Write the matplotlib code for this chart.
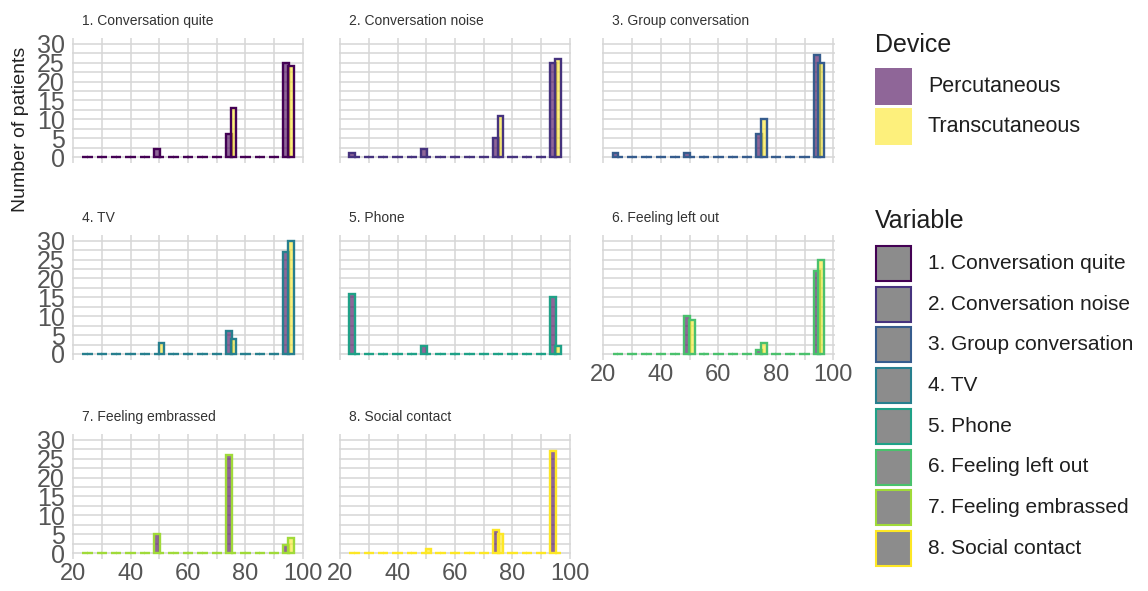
import matplotlib
matplotlib.use("Agg")
import matplotlib.pyplot as plt
from matplotlib.colors import to_rgba
from matplotlib.patches import Rectangle

plt.rcParams['font.family'] = ['Liberation Sans', 'DejaVu Sans']

# bin centres of the histogram
bins = [25, 30, 35, 40, 45, 50, 55, 60, 65, 70, 75, 80, 85, 90, 95]

variables = ["1. Conversation quite", "2. Conversation noise", "3. Group conversation",
             "4. TV", "5. Phone", "6. Feeling left out", "7. Feeling embrassed",
             "8. Social contact"]
devices = ["Percutaneous", "Transcutaneous"]

# counts per bin (25 ... 95), one row per variable
perc = [
    [0, 0, 0, 0, 0, 2, 0, 0, 0, 0, 6, 0, 0, 0, 25],
    [1, 0, 0, 0, 0, 2, 0, 0, 0, 0, 5, 0, 0, 0, 25],
    [1, 0, 0, 0, 0, 1, 0, 0, 0, 0, 6, 0, 0, 0, 27],
    [0, 0, 0, 0, 0, 0, 0, 0, 0, 0, 6, 0, 0, 0, 27],
    [16, 0, 0, 0, 0, 2, 0, 0, 0, 0, 0, 0, 0, 0, 15],
    [0, 0, 0, 0, 0, 10, 0, 0, 0, 0, 1, 0, 0, 0, 22],
    [0, 0, 0, 0, 0, 5, 0, 0, 0, 0, 26, 0, 0, 0, 2],
    [0, 0, 0, 0, 0, 0, 0, 0, 0, 0, 6, 0, 0, 0, 27],
]
trans = [
    [0, 0, 0, 0, 0, 0, 0, 0, 0, 0, 13, 0, 0, 0, 24],
    [0, 0, 0, 0, 0, 0, 0, 0, 0, 0, 11, 0, 0, 0, 26],
    [0, 0, 0, 0, 0, 0, 0, 0, 0, 0, 10, 0, 0, 0, 25],
    [0, 0, 0, 0, 0, 3, 0, 0, 0, 0, 4, 0, 0, 0, 30],
    [0, 0, 0, 0, 0, 0, 0, 0, 0, 0, 0, 0, 0, 0, 2],
    [0, 0, 0, 0, 0, 9, 0, 0, 0, 0, 3, 0, 0, 0, 25],
    [0, 0, 0, 0, 0, 0, 0, 0, 0, 0, 0, 0, 0, 0, 4],
    [0, 0, 0, 0, 0, 1, 0, 0, 0, 0, 5, 0, 0, 0, 0],
]

viridis8 = ['#440154', '#46337e', '#365c8d', '#277f8e', '#1fa187', '#4ac16d', '#a0da39', '#fde725']
fill_perc = to_rgba('#440154', 0.6)
fill_trans = to_rgba('#fde725', 0.6)

fig = plt.figure(figsize=(11.48, 5.91), dpi=100)

W, H = 1148, 591
col_left = [71.6, 338.6, 602.0]
row_bottom = [162.7, 359.6, 558.7]
pw, ph = 232.8, 124.5

grid_col = '#d6d6d6'
tick_col = '#555555'
narrow = ['Liberation Sans Narrow', 'Liberation Sans', 'DejaVu Sans']

for i, name in enumerate(variables):
    r, c = divmod(i, 3)
    ax = fig.add_axes([col_left[c] / W, 1 - row_bottom[r] / H, pw / W, ph / H])
    ax.set_xlim(19.5, 100.5)
    ax.set_ylim(-1.5, 31.5)
    ax.set_xticks([20, 40, 60, 80, 100])
    ax.set_xticks([30, 50, 70, 90], minor=True)
    ax.set_yticks([0, 5, 10, 15, 20, 25, 30])
    ax.set_yticks([2.5, 7.5, 12.5, 17.5, 22.5, 27.5], minor=True)
    ax.grid(True, which='both', color=grid_col, linewidth=1.1)
    ax.set_axisbelow(True)
    for s in ax.spines.values():
        s.set_visible(False)
    ax.tick_params(which='both', length=0)
    ax.tick_params(axis='y', labelcolor=tick_col, pad=5)
    ax.tick_params(axis='x', labelsize=17, labelcolor=tick_col, pad=3)
    if c != 0:
        ax.set_yticklabels([])
    else:
        for t in ax.get_yticklabels():
            t.set_family(narrow)
            t.set_fontsize(18)
    if i not in (5, 6, 7):
        ax.set_xticklabels([])

    ax.bar([b - 0.8 for b in bins], perc[i], width=2.0, facecolor=fill_perc,
           edgecolor=viridis8[i], linewidth=1.7)
    ax.bar([b + 0.8 for b in bins], trans[i], width=2.0, facecolor=fill_trans,
           edgecolor=viridis8[i], linewidth=1.7)

    ax.text(0.045, 1.135, name, transform=ax.transAxes, fontsize=10,
            color='#333333', ha='left', va='center')

fig.text(21 / W, 1 - 129 / H, 'Number of patients', rotation=90, fontsize=14,
         color='#222222', ha='center', va='center')

# legends drawn in a pixel-space overlay
lax = fig.add_axes([0, 0, 1, 1])
lax.set_xlim(0, W)
lax.set_ylim(H, 0)
lax.axis('off')
txt_col = '#1f1f1f'
key_x, key_w, key_h = 875, 37, 37

lax.text(key_x, 52, 'Device', fontsize=18, color=txt_col, va='baseline', ha='left')
for k, (lab, fc) in enumerate(zip(devices, [fill_perc, fill_trans])):
    y0 = 68 + k * 40
    lax.add_patch(Rectangle((key_x, y0), key_w, key_h, facecolor=fc, edgecolor='none'))
    lax.text(928, y0 + key_h / 2, lab, fontsize=15.5, color=txt_col, va='center', ha='left')

lax.text(key_x, 228, 'Variable', fontsize=18, color=txt_col, va='baseline', ha='left')
for k, (lab, ec) in enumerate(zip(variables, viridis8)):
    y0 = 245 + k * 40.7
    lax.add_patch(Rectangle((key_x + 1, y0 + 1), key_w - 2, key_h - 2, facecolor='#8c8c8c',
                            edgecolor=ec, linewidth=1.5))
    lax.text(928, y0 + key_h / 2, lab, fontsize=15, color=txt_col, va='center', ha='left')

fig.savefig('out.png', dpi=100)
